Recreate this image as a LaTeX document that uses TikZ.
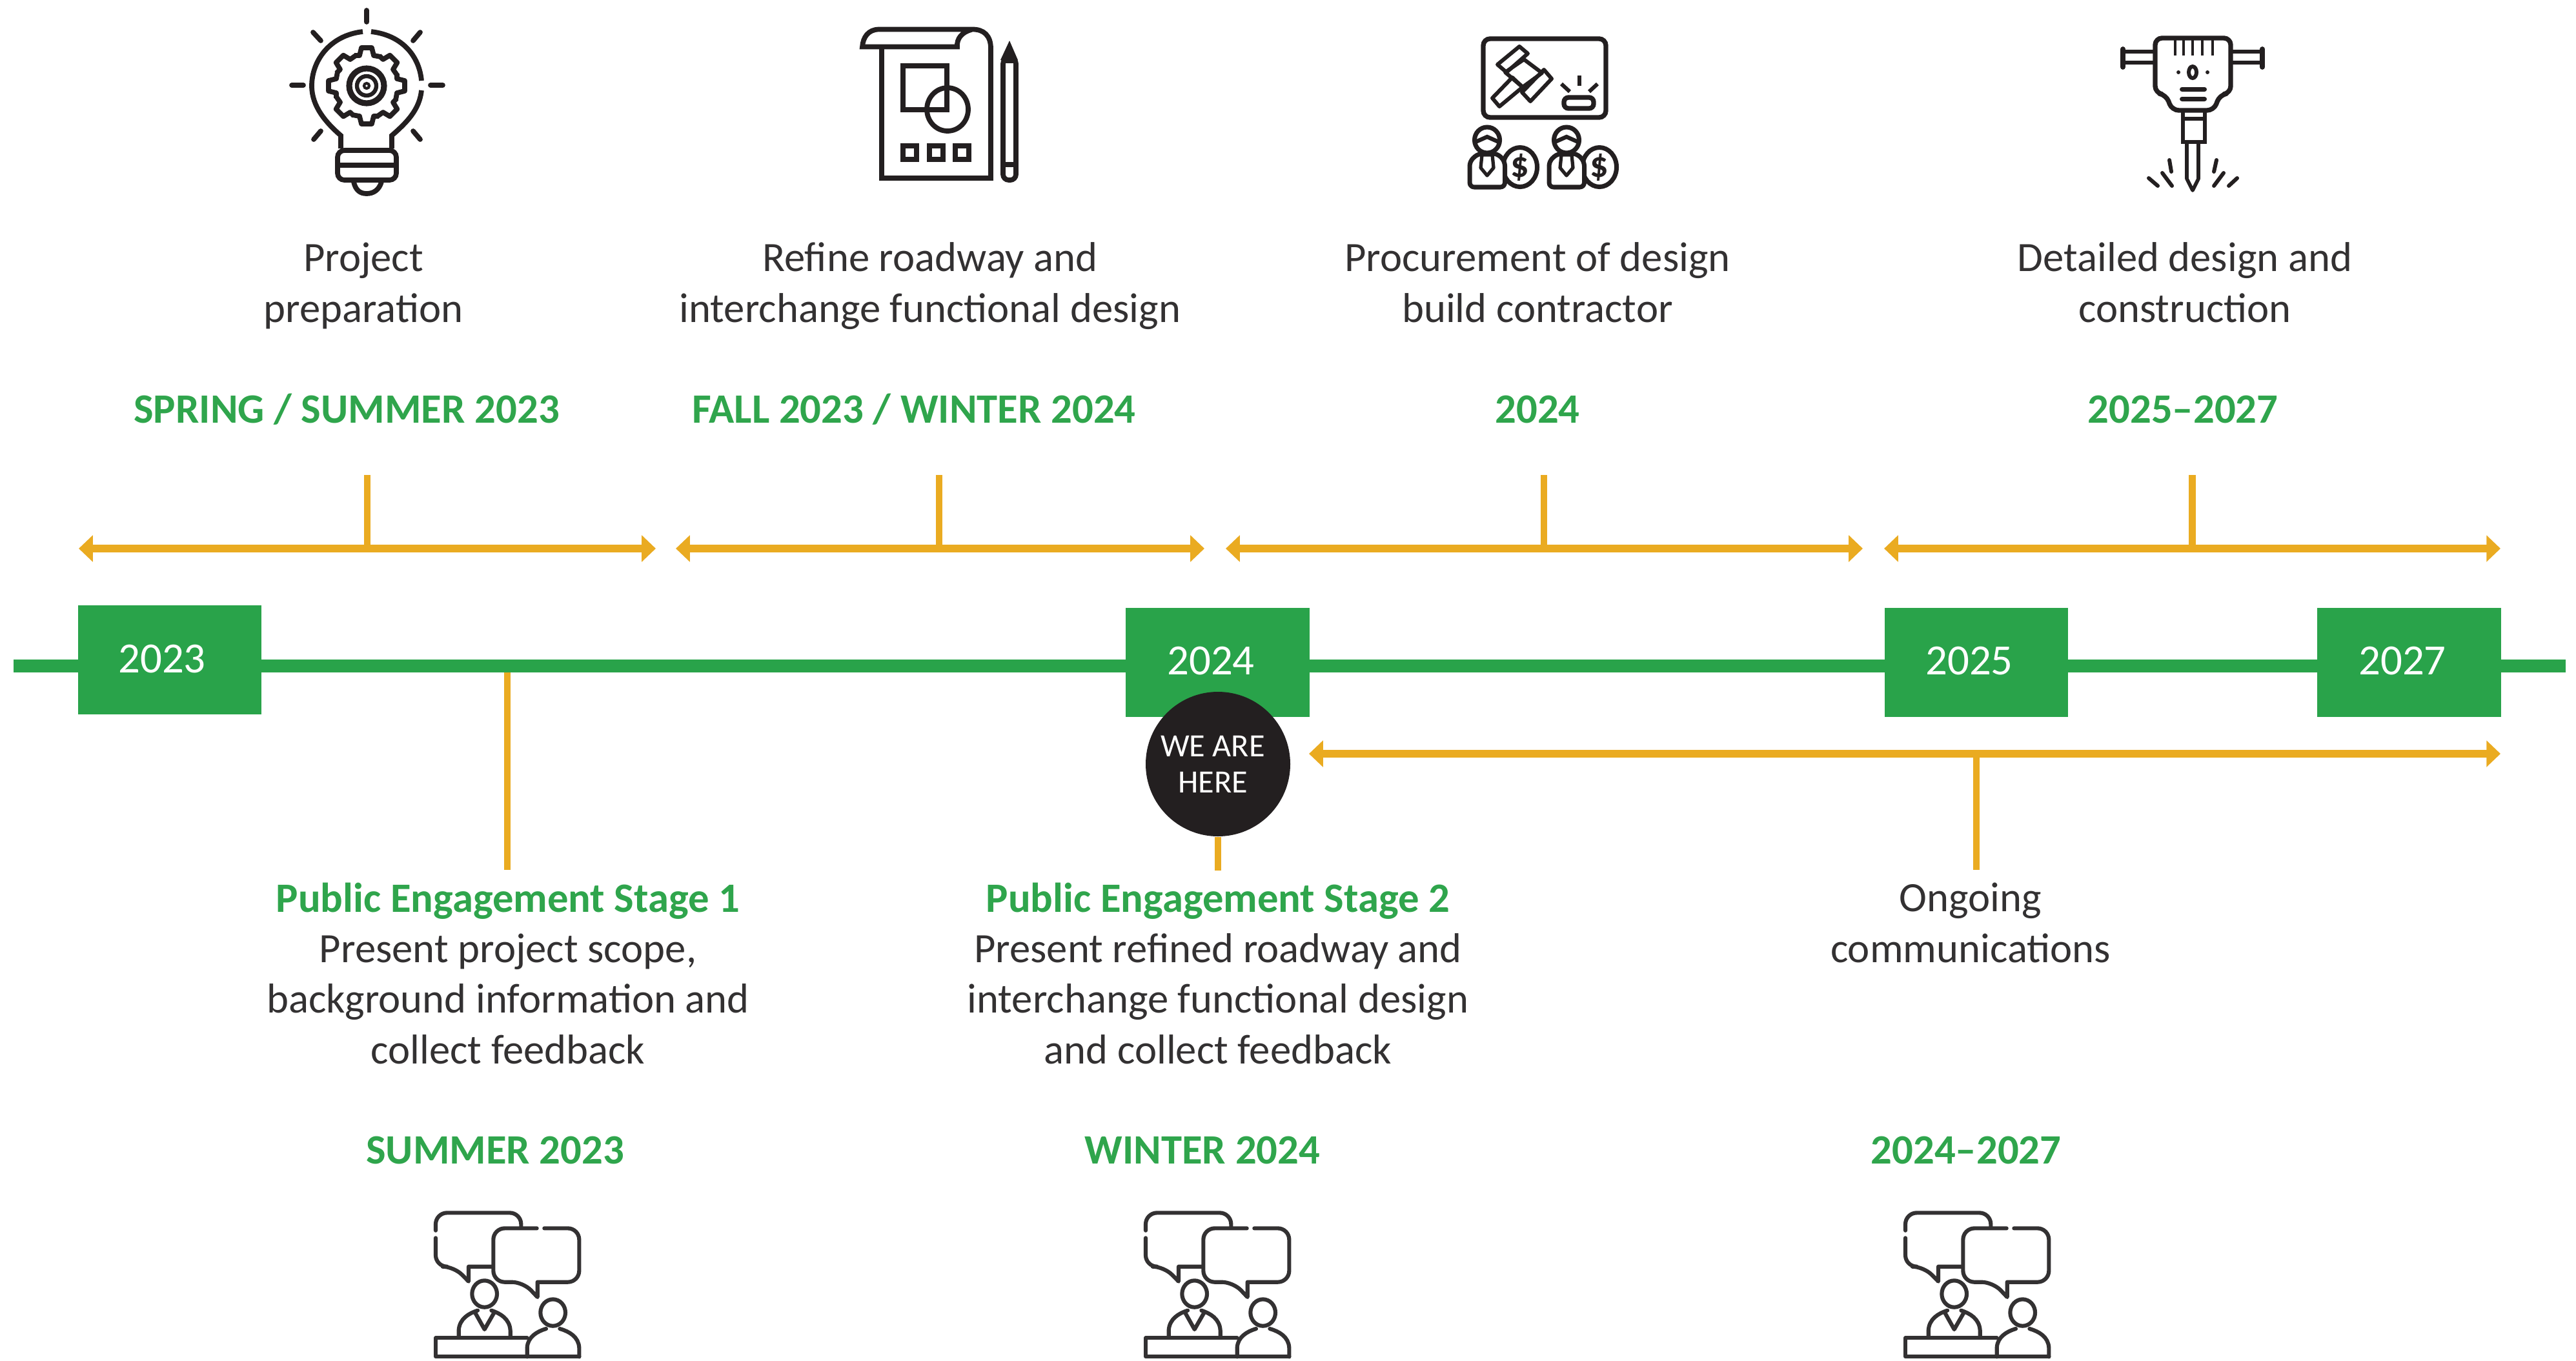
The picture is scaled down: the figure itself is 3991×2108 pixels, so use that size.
\documentclass[tikz,border=0pt]{standalone}
\usepackage{fontspec}
\setmainfont{Carlito}
\usetikzlibrary{arrows.meta}
\definecolor{grbar}{HTML}{29A34A}
\definecolor{grtext}{HTML}{2FA54C}
\definecolor{gold}{HTML}{EAAB21}
\definecolor{dark}{HTML}{231F20}
\definecolor{talk}{HTML}{333132}
\tikzset{
  spanarrow/.style={gold,line width=3.4pt,{Triangle[length=6.2pt,width=11.4pt]}-{Triangle[length=6.2pt,width=11.4pt]}},
  tick/.style={gold,line width=3.1pt},
  yearbox/.style={fill=grbar,minimum width=80.8pt,minimum height=48pt,inner sep=0pt},
  yearlabel/.style={white,font=\fontsize{19}{22}\selectfont},
  body/.style={text=talk,align=center,anchor=base,inner sep=0pt,font=\fontsize{18.4}{22.2}\selectfont},
  bodygreen/.style={body,text=grtext,font=\fontsize{18.4}{22.2}\selectfont\bfseries},
  dateline/.style={text=grtext,font=\fontsize{18.4}{22.2}\selectfont\bfseries},
  ink/.style={dark,line width=2.2pt},
  pics/talkgroup/.style={code={
    \begin{scope}[talk,line width=1.75pt,line cap=round,line join=round,xscale=1/3,yscale=1/3]
    \draw[rounded corners=5pt] (225,200) -- (225,118) -- (622,118) -- (622,185);
    \draw[rounded corners=5pt] (225,235) -- (225,368) -- (310,368)[sharp corners] -- (378,437) -- (378,368) -- (490,368);
    \draw[rounded corners=5pt] (695,190) -- (493,190) -- (493,440) -- (632,440)[sharp corners] -- (698,510) -- (698,440)[rounded corners=5pt] -- (892,440) -- (892,190) -- (730,190);
    \draw (452,495) ellipse (58 and 62);
    \draw (770,582) ellipse (58 and 62);
    \draw (332,695) -- (332,665) .. controls (335,610) and (380,585) .. (420,572);
    \draw (572,695) -- (572,665) .. controls (569,610) and (524,585) .. (484,572);
    \draw (410,585) -- (452,660) -- (495,585);
    \draw (650,700) -- (225,700) -- (225,787) -- (892,787);
    \draw (650,787) -- (650,745) .. controls (653,695) and (695,670) .. (738,657);
    \draw (892,787) -- (892,745) .. controls (889,695) and (847,670) .. (802,657);
    \end{scope}
  }},
  pics/biddingperson/.style={code={
    \draw[ink,line width=2pt] (95,89) ellipse (26.5 and 30.5);
    \draw[ink,fill=white,line width=2pt] (44,47) ellipse (19.5 and 20);
    \draw[ink,line width=1.8pt] (26,50) -- (44,42) -- (62,50);
    \draw[ink,fill=white,line join=round,line width=2pt,rounded corners=2pt] (17,120) -- (17,80) -- (30,68) -- (60,68) -- (71.5,80) -- (71.5,120) -- cycle;
    \draw[ink,line width=1.5pt,line join=round] (36,70) -- (52,70) -- (54,90) -- (44,102) -- (34,90) -- cycle;
  }}
}
\begin{document}
\begin{tikzpicture}[x=0.01cm,y=-0.01cm]
\useasboundingbox (0,0) rectangle (3991,2108);
% timeline bar and years
\coordinate (barL) at (21,1032);
\coordinate (barR) at (3975,1032);
\draw[grbar,line width=5.6pt] (barL) -- (barR);
\node[yearbox] (y23) at (263,1022.5) {};
\node[yearbox] (y24) at (1886.5,1026.5) {};
\node[yearbox] (y25) at (3062,1026.5) {};
\node[yearbox] (y27) at (3732.5,1026.5) {};
\node[yearlabel] (t23) at (251,1021) {2023};
\node[yearlabel] (t24) at (1876,1024) {2024};
\node[yearlabel] (t25) at (3051,1024) {2025};
\node[yearlabel] (t27) at (3722,1024) {2027};

% phases above the line
\foreach \name/\left/\right/\mid in {a/122/1016/569,b/1047/1866/1455,c/1899/2886/2392,d/2919/3874/3396}{
  \coordinate (\name L) at (\left,850);
  \coordinate (\name R) at (\right,850);
  \coordinate (\name M) at (\mid,850);
  \coordinate (\name T) at (\mid,736);
  \draw[tick] (\name T) -- (\name M);
  \draw[spanarrow] (\name L) -- (\name R);
}
\node[body] (p1) at (563,499) {Project\\preparation};
\node[body] (p2) at (1441,499) {Refine roadway and\\interchange functional design};
\node[body] (p3) at (2382,499) {Procurement of design\\build contractor};
\node[body] (p4) at (3385,499) {Detailed design and\\construction};
\node[dateline] (d1) at (537,634) {SPRING / SUMMER 2023};
\node[dateline] (d2) at (1416,634) {FALL 2023 / WINTER 2024};
\node[dateline] (d3) at (2382,634) {2024};
\node[dateline] (d4) at (3382,634) {2025–2027};

% below the line
\coordinate (s1top) at (786,1042);
\coordinate (s1bot) at (786,1348);
\draw[tick] (s1top) -- (s1bot);
\coordinate (s2bot) at (1887,1349);
\node[circle,fill=dark,minimum size=63.7pt,inner sep=0pt] (here) at (1887,1184) {};
\draw[tick] (here.south) -- (s2bot);
\node[white,align=center,font=\fontsize{14.3}{16}\selectfont] (hereT) at (1879,1184) {WE ARE\\HERE};
\coordinate (cL) at (2028,1168);
\coordinate (cR) at (3874,1168);
\coordinate (cM) at (3062,1168);
\coordinate (cB) at (3062,1348);
\draw[tick] (cM) -- (cB);
\draw[spanarrow] (cL) -- (cR);

\node[bodygreen] (e1) at (787,1413) {Public Engagement Stage 1};
\node[body] (e1b) at (787,1648) {Present project scope,\\background information and\\collect feedback};
\node[bodygreen] (e2) at (1887,1413) {Public Engagement Stage 2};
\node[body] (e2b) at (1887,1648) {Present refined roadway and\\interchange functional design\\and collect feedback};
\node[body] (e3) at (3053,1491) {Ongoing\\communications};
\node[dateline] (f1) at (767,1782) {SUMMER 2023};
\node[dateline] (f2) at (1863,1782) {WINTER 2024};
\node[dateline] (f3) at (3046,1782) {2024–2027};

% bottom icons
\foreach \ix in {600,1700,2877}
  \pic at (\ix,1840) {talkgroup};

% bulb icon
\draw[ink] (562,49) .. controls (510,55) and (483,95) .. (483,133) .. controls (483,165) and (505,190) .. (528,210) -- (528,230);
\draw[ink] (575,49) .. controls (626,55) and (650,90) .. (653,125);
\draw[ink] (653,140) .. controls (650,170) and (630,190) .. (607,210) -- (607,230);
\draw[ink,rounded corners=3pt] (523,256) -- (523,233) -- (614,233) -- (614,279) -- (523,279) -- cycle;
\draw[ink] (523,256) -- (614,256);
\draw[ink] (548,282) .. controls (551,295) and (558,300) .. (568,300) .. controls (578,300) and (587,295) .. (591,282);
\foreach \a/\b/\c/\d in {568/16/568/34,452/132/470/132,667/132/686/132,485/50/497/63,651/50/640/63,497/203/486/216,640/203/651/216}
  \draw[ink,line cap=round] (\a,\b) -- (\c,\d);
\foreach \ang in {0,45,...,315}
  \draw[ink,rotate around={\ang:(568,133)},line join=round] (568,133) ++(47,-19) -- ++(0,8) -- ++(12,3) -- ++(0,16) -- ++(-12,3) -- ++(-2,11);
\draw[ink,line width=2.6pt] (568,133) circle (27);
\draw[ink,line width=1.8pt] (568,133) circle (15);
\draw[ink,line width=1.2pt] (568,133) circle (4);

% plan icon
\draw[ink] (1366,73) -- (1366,276) -- (1535,276) -- (1535,75) .. controls (1535,55) and (1524,45.5) .. (1507,45.5) -- (1362,45.5) .. controls (1345,45.5) and (1337,58) .. (1336,72.5) -- (1483,72.5) .. controls (1482,60) and (1490,50) .. (1505,46);
\draw[ink] (1399,102) rectangle (1467,170);
\draw[ink] (1468,169.5) ellipse (32 and 33.5);
\foreach \sx in {1399,1440,1480}
  \draw[ink] (\sx,226) rectangle +(21,21);
\fill[dark] (1564,63) -- (1550,93) -- (1577,93) -- cycle;
\draw[ink,rounded corners=2.5pt] (1554,90) -- (1554,279) -- (1574,279) -- (1574,90) -- cycle;
\draw[ink] (1554,94) -- (1574,94);
\draw[ink] (1554,255) -- (1574,255);

% auction icon
\draw[ink,rounded corners=3pt,line width=2.1pt] (2298,60) rectangle (2488,182);
\draw[ink,line join=round,line width=1.7pt] (2312,152) -- (2323,165) -- (2359,135) -- (2343,120) -- cycle;
\draw[ink,line join=round,line width=1.7pt] (2361,92) -- (2389,113) -- (2359,135) -- (2332,112) -- cycle;
\draw[ink,line join=round,line width=1.7pt] (2354,72) -- (2367,83) -- (2334,112) -- (2320,100) -- cycle;
\draw[ink,line join=round,line width=1.7pt] (2392,108) -- (2404,122) -- (2371,157) -- (2358,143) -- cycle;
\draw[ink,rounded corners=2pt,line width=2.1pt] (2423,151) rectangle (2469,168);
\draw[ink,line width=1.7pt] (2447,117) -- (2447,133);
\draw[ink,line width=1.7pt] (2419,130) -- (2432,142);
\draw[ink,line width=1.7pt] (2475,130) -- (2462,142);
\foreach \ix in {2260,2383}
  \pic at (\ix,170) {biddingperson};
\foreach \cx/\nm in {2355/ca,2478/cb}
  \node[text=dark,font=\fontsize{16}{16}\selectfont\bfseries] (\nm) at (\cx,259) {\$};

% hammer icon
\draw[ink,line width=2.1pt,line join=round,rounded corners=3pt] (3339,59) -- (3456,59) -- (3456,144) -- (3439,147) -- (3430,171) -- (3365,171) -- (3356,147) -- (3339,144) -- cycle;
\foreach \vx in {3370,3383,3397,3412,3428}
  \draw[ink,line width=1.3pt] (\vx,60) -- (\vx,86);
\foreach \hy in {80,97} {
  \draw[ink,line width=1.8pt] (3289,\hy) -- (3336,\hy);
  \draw[ink,line width=1.8pt] (3459,\hy) -- (3505,\hy);
}
\draw[ink,line cap=round] (3289,76) -- (3289,104);
\draw[ink,line cap=round] (3505,76) -- (3505,104);
\draw[ink,line width=1.7pt] (3397,112) ellipse (6 and 9);
\fill[dark] (3375,112) circle (3);
\fill[dark] (3420,112) circle (3);
\fill[dark,rounded corners=1pt] (3377,135) rectangle (3419,142);
\fill[dark,rounded corners=1pt] (3377,150) rectangle (3419,157);
\draw[ink,line width=1.9pt] (3382,172) -- (3382,220) -- (3416,220) -- (3416,172);
\draw[ink,line width=1.9pt] (3382,184) -- (3416,184);
\draw[ink,line width=1.6pt,line join=round] (3388,220) -- (3388,277) -- (3397,295) -- (3406,277) -- (3406,220);
\foreach \a/\b/\c/\d in {3361/248/3364/266,3434/248/3430/266,3350/268/3365/288,3445/268/3430/288,3329/276/3343/288,3466/276/3453/288}
  \draw[ink,line width=1.7pt,line cap=round] (\a,\b) -- (\c,\d);
\end{tikzpicture}
\end{document}
